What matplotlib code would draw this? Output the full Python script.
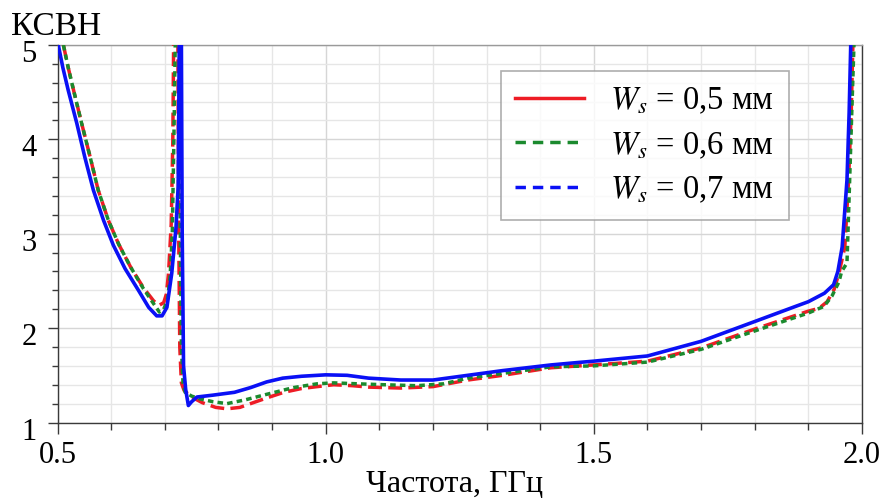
import matplotlib
matplotlib.use("Agg")
import matplotlib.pyplot as plt
from matplotlib.lines import Line2D
from matplotlib.ticker import MultipleLocator
import matplotlib.transforms as mtransforms

# ---------------- data ----------------
f_05 = [0.511, 0.520, 0.530, 0.545, 0.561, 0.576, 0.595, 0.614, 0.636, 0.660, 0.679,
        0.689, 0.698, 0.703, 0.707, 0.712, 0.715, 0.7165, 0.718, 0.7225, 0.7245, 0.726,
        0.728, 0.731, 0.736, 0.750, 0.770, 0.795, 0.816, 0.840, 0.860, 0.890, 0.922,
        0.955, 0.984, 1.015, 1.050, 1.080, 1.140, 1.200, 1.265, 1.330, 1.420, 1.500,
        1.600, 1.700, 1.800, 1.900, 1.920, 1.935, 1.948, 1.957, 1.968, 1.975, 1.980,
        1.983, 1.986]
v_05 = [5.00, 4.76, 4.52, 4.17, 3.81, 3.46, 3.14, 2.89, 2.65, 2.43, 2.29,
        2.24, 2.27, 2.36, 2.58, 3.10, 3.99, 5.00, 6.50, 6.50, 5.00, 3.00,
        1.80, 1.42, 1.34, 1.27, 1.21, 1.16, 1.145, 1.16, 1.20, 1.26, 1.32,
        1.36, 1.38, 1.40, 1.39, 1.375, 1.365, 1.38, 1.45, 1.50, 1.58, 1.61,
        1.65, 1.79, 1.99, 2.18, 2.21, 2.28, 2.41, 2.58, 2.86, 3.57, 4.30,
        5.00, 6.00]

f_06 = [0.511, 0.520, 0.530, 0.545, 0.561, 0.576, 0.595, 0.614, 0.636, 0.660, 0.679,
        0.690, 0.698, 0.705, 0.710, 0.714, 0.717, 0.7195, 0.721, 0.7255, 0.7275, 0.729,
        0.731, 0.734, 0.738, 0.750, 0.766, 0.790, 0.816, 0.850, 0.891, 0.940, 0.984,
        1.015, 1.060, 1.110, 1.170, 1.220, 1.265, 1.330, 1.420, 1.500, 1.600, 1.700,
        1.800, 1.900, 1.929, 1.944, 1.957, 1.962, 1.972, 1.977, 1.981, 1.985, 1.988]
v_06 = [5.00, 4.76, 4.52, 4.17, 3.81, 3.46, 3.14, 2.89, 2.65, 2.42, 2.26,
        2.17, 2.20, 2.30, 2.55, 3.00, 4.00, 5.00, 6.50, 6.50, 5.00, 3.00,
        1.80, 1.42, 1.32, 1.28, 1.25, 1.22, 1.20, 1.24, 1.30, 1.37, 1.41,
        1.42, 1.41, 1.40, 1.39, 1.41, 1.47, 1.52, 1.59, 1.60, 1.64, 1.775,
        1.97, 2.16, 2.23, 2.34, 2.49, 2.60, 2.69, 3.57, 4.30, 5.00, 6.00]

f_07 = [0.5015, 0.510, 0.520, 0.536, 0.551, 0.567, 0.586, 0.604, 0.626, 0.651, 0.670,
        0.685, 0.695, 0.704, 0.713, 0.721, 0.725, 0.727, 0.728, 0.7295,
        0.731, 0.7325, 0.735, 0.739, 0.744, 0.750, 0.760, 0.790, 0.830, 0.860, 0.890,
        0.920, 0.955, 1.000, 1.040, 1.080, 1.140, 1.200, 1.265, 1.330, 1.420, 1.469,
        1.500, 1.600, 1.700, 1.800, 1.876, 1.900, 1.930, 1.947, 1.955, 1.963, 1.972,
        1.976, 1.979, 1.982]
v_07 = [5.00, 4.76, 4.52, 4.17, 3.81, 3.46, 3.14, 2.88, 2.63, 2.40, 2.22,
        2.13, 2.13, 2.22, 2.58, 3.07, 3.50, 5.00, 6.50, 6.50,
        5.00, 3.00, 1.60, 1.35, 1.18, 1.22, 1.27, 1.29, 1.32, 1.37, 1.43,
        1.47, 1.49, 1.505, 1.50, 1.47, 1.45, 1.45, 1.50, 1.55, 1.61, 1.635,
        1.65, 1.705, 1.86, 2.07, 2.23, 2.28, 2.37, 2.46, 2.60, 2.86, 3.57,
        4.28, 5.00, 6.00]

labels = [r"$W_s$ = 0,5 мм", r"$W_s$ = 0,6 мм", r"$W_s$ = 0,7 мм"]
x_ticks = [0.5, 1.0, 1.5, 2.0]
x_tick_labels = ["0.5", "1.0", "1.5", "2.0"]
y_ticks = [1, 2, 3, 4, 5]

c_red = "#ee1c25"
c_green = "#1b8a2e"
c_blue = "#0a10f5"

# ---------------- figure ----------------
plt.rcParams["font.family"] = ["Liberation Serif", "DejaVu Serif"]
plt.rcParams["mathtext.fontset"] = "stix"

fig = plt.figure(figsize=(8.86, 5.01), dpi=100)
ax = fig.add_axes([57.5 / 886, 1 - 422.5 / 501, (862 - 57.5) / 886, (422.5 - 45) / 501])

ax.plot(f_05, v_05, color=c_red, lw=2.5, ls=(0, (4, 1.8)), zorder=3, solid_capstyle="butt")
ax.plot(f_06, v_06, color=c_green, lw=2.5, ls=(0, (1.6, 1.2)), zorder=4)
ax.plot(f_07, v_07, color=c_blue, lw=2.6, ls="-", zorder=5)

ax.set_xlim(0.5, 2.0)
ax.set_ylim(1, 5)
ax.set_xticks(x_ticks)
ax.set_xticklabels(x_tick_labels)
ax.set_yticks(y_ticks)
ax.xaxis.set_minor_locator(MultipleLocator(0.1))
ax.yaxis.set_minor_locator(MultipleLocator(0.2))

ax.grid(which="minor", color="#e6e6e6", lw=1.0)
ax.grid(which="major", color="#d6d6d6", lw=1.0)
ax.set_axisbelow(True)

for s in ["left", "bottom", "right"]:
    ax.spines[s].set_color("#3a3a3a")
    ax.spines[s].set_linewidth(1.0)
ax.spines["top"].set_color("#9a9a9a")
ax.spines["top"].set_linewidth(1.0)

ax.tick_params(axis="x", which="major", length=8, width=1, color="#3a3a3a", labelsize=22, pad=5)
ax.tick_params(axis="x", which="minor", length=5, width=1, color="#3a3a3a")
ax.tick_params(axis="y", which="major", length=7, width=1, color="#3a3a3a", labelsize=22, pad=8)
ax.tick_params(axis="y", which="minor", length=4, width=1, color="#3a3a3a")

off = mtransforms.ScaledTranslation(0, -6 / 100, fig.dpi_scale_trans)
for lbl in ax.get_yticklabels():
    lbl.set_transform(lbl.get_transform() + off)

fig.text(11 / 886, 1 - 35 / 501, "КСВН", fontsize=24, ha="left", va="baseline")
fig.text(455 / 886, 1 - 492 / 501, "Частота, ГГц", fontsize=23, ha="center", va="baseline")

handles = [Line2D([], [], color=c_red, lw=2.5, ls="-"),
           Line2D([], [], color=c_green, lw=2.5, ls=(0, (3, 2))),
           Line2D([], [], color=c_blue, lw=2.5, ls=(0, (3, 2)))]
leg = ax.legend(handles, labels, loc="upper left", bbox_to_anchor=(0.551, 0.93),
                fontsize=23.5, frameon=True, fancybox=False, edgecolor="#9a9a9a",
                handlelength=2.1, handletextpad=0.8, labelspacing=0.42,
                borderpad=0.45, borderaxespad=0)
leg.get_frame().set_linewidth(1.2)

fig.savefig("out.png", dpi=100)
